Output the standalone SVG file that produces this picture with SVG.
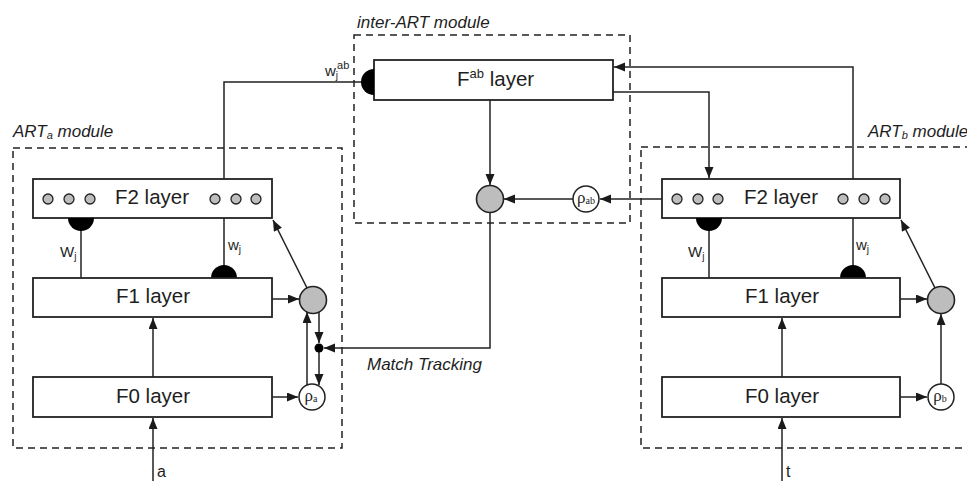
<svg xmlns="http://www.w3.org/2000/svg" width="967" height="481" viewBox="0 0 967 481">
<defs>
<marker id="arr" markerUnits="userSpaceOnUse" markerWidth="12" markerHeight="10" refX="11" refY="4.5" orient="auto">
<path d="M0,0 L11,4.5 L0,9 z" fill="#1a1a1a"/>
</marker>
<style>
.bg{fill:#ffffff}
.layer{fill:#ffffff;stroke:#222;stroke-width:1.8}
.dash{fill:none;stroke:#222;stroke-width:1.5;stroke-dasharray:7 5}
.con{fill:none;stroke:#222;stroke-width:1.5}
.arr{marker-end:url(#arr)}
.gray{fill:#bdbdbd;stroke:#222;stroke-width:1.6}
.dot{fill:#bdbdbd;stroke:#222;stroke-width:1.3}
.rho{fill:#ffffff;stroke:#222;stroke-width:1.5}
.semi{fill:#000}
.lt{font-family:"Liberation Sans",Arial,sans-serif;font-size:20.5px;fill:#1e1e1e;text-anchor:middle}
.mod{font-family:"Liberation Sans",Arial,sans-serif;font-size:17px;font-style:italic;fill:#1e1e1e}
.w{font-family:"Liberation Sans",Arial,sans-serif;font-size:15px;fill:#1e1e1e}
.rt{font-family:"Liberation Serif","Times New Roman",serif;font-size:17px;fill:#1e1e1e;text-anchor:middle}
.in{font-family:"Liberation Sans",Arial,sans-serif;font-size:16px;fill:#1e1e1e}
</style>
</defs>
<rect class="bg" x="0" y="0" width="967" height="481"/>

<g id="modules">
<rect class="dash" x="13" y="148" width="329" height="300"/>
<text class="mod" x="13" y="137">ART<tspan font-size="11" dy="2">a</tspan><tspan dy="-2"> module</tspan></text>
<rect class="dash" x="354" y="35" width="276" height="188"/>
<text class="mod" x="357" y="28">inter-ART module</text>
<rect class="dash" x="641" y="147" width="340" height="301"/>
<text class="mod" x="868" y="137">ART<tspan font-size="11" dy="2">b</tspan><tspan dy="-2"> module</tspan></text>
</g>

<g id="connectors">
<path class="con" d="M224,179 V82 H362"/>
<path class="con arr" d="M853,179 V67 H614"/>
<path class="con arr" d="M613,92 H709 V178"/>
<path class="con arr" d="M490,100 V185"/>
<path class="con arr" d="M662,199 H600"/>
<path class="con arr" d="M573,199 H504"/>
<path class="con arr" d="M490,212 V348 H324"/>
<path class="con" d="M81,230 V278"/>
<path class="con" d="M224,218 V266"/>
<path class="con arr" d="M272,299 H299"/>
<path class="con arr" d="M307,288 L273,220"/>
<path class="con arr" d="M319,312 V343"/>
<path class="con arr" d="M319,352 V385"/>
<path class="con arr" d="M307,385 V312"/>
<path class="con arr" d="M272,397 H298"/>
<path class="con arr" d="M153,377 V318"/>
<path class="con arr" d="M153,481 V418"/>
<path class="con" d="M709,230 V278"/>
<path class="con" d="M853,218 V266"/>
<path class="con arr" d="M900,299 H927"/>
<path class="con arr" d="M935,288 L901,220"/>
<path class="con arr" d="M941,384 V314"/>
<path class="con arr" d="M900,397 H927"/>
<path class="con arr" d="M782,377 V318"/>
<path class="con arr" d="M782,481 V418"/>
<text class="mod" x="367" y="370">Match Tracking</text>
<text class="in" x="157" y="477">a</text>
<text class="in" x="786" y="477">t</text>
</g>

<g id="F2a">
<rect class="layer" x="33" y="179" width="239" height="39"/>
<circle class="dot" cx="48" cy="199" r="5"/><circle class="dot" cx="69" cy="199" r="5"/><circle class="dot" cx="90" cy="199" r="5"/>
<circle class="dot" cx="215" cy="199" r="5"/><circle class="dot" cx="236" cy="199" r="5"/><circle class="dot" cx="256" cy="199" r="5"/>
<text class="lt" x="152" y="204">F2 layer</text>
<path class="semi" d="M68,218 A13,13 0 0 0 94,218 Z"/>
<text class="w" x="60" y="257">W<tspan font-size="10" dy="3">j</tspan></text>
<path class="semi" d="M211,278 A13,13 0 0 1 237,278 Z"/>
<text class="w" x="228" y="250">w<tspan font-size="10" dy="3">j</tspan></text>
</g>

<g id="F1a">
<rect class="layer" x="33" y="278" width="239" height="39"/>
<text class="lt" x="153" y="303">F1 layer</text>
</g>

<g id="F0a">
<rect class="layer" x="33" y="377" width="239" height="40"/>
<text class="lt" x="153" y="403">F0 layer</text>
</g>

<g id="gate-a">
<circle class="gray" cx="313" cy="300" r="13.5"/>
</g>

<g id="junction-a">
<circle cx="319" cy="348" r="4.5" fill="#000"/>
</g>

<g id="rho-a">
<circle class="rho" cx="312" cy="397" r="13"/>
<text class="rt" x="311" y="401">ρ<tspan font-size="10" dy="1">a</tspan></text>
</g>

<g id="Fab">
<rect class="layer" x="374" y="60" width="239" height="40"/>
<text class="lt" x="457" y="86" style="text-anchor:start">F<tspan font-size="13" dy="-8">ab</tspan><tspan dy="8"> layer</tspan></text>
<path class="semi" d="M374,69 A13,13 0 0 0 374,95 Z"/>
<text class="w" x="325" y="76">w<tspan font-size="10" dy="3">j</tspan><tspan font-size="11" dy="-10" dx="-1">ab</tspan></text>
</g>

<g id="gate-ab">
<circle class="gray" cx="490" cy="199" r="13.5"/>
</g>

<g id="rho-ab">
<circle class="rho" cx="586" cy="199" r="13"/>
<text class="rt" x="586" y="203">ρ<tspan font-size="10" dy="1">ab</tspan></text>
</g>

<g id="F2b">
<rect class="layer" x="662" y="179" width="238" height="39"/>
<circle class="dot" cx="677" cy="199" r="5"/><circle class="dot" cx="698" cy="199" r="5"/><circle class="dot" cx="718" cy="199" r="5"/>
<circle class="dot" cx="843" cy="199" r="5"/><circle class="dot" cx="864" cy="199" r="5"/><circle class="dot" cx="885" cy="199" r="5"/>
<text class="lt" x="781" y="204">F2 layer</text>
<path class="semi" d="M696,218 A13,13 0 0 0 722,218 Z"/>
<text class="w" x="688" y="257">W<tspan font-size="10" dy="3">j</tspan></text>
<path class="semi" d="M840,278 A13,13 0 0 1 866,278 Z"/>
<text class="w" x="856" y="250">w<tspan font-size="10" dy="3">j</tspan></text>
</g>

<g id="F1b">
<rect class="layer" x="662" y="278" width="238" height="39"/>
<text class="lt" x="782" y="303">F1 layer</text>
</g>

<g id="F0b">
<rect class="layer" x="662" y="377" width="238" height="40"/>
<text class="lt" x="782" y="403">F0 layer</text>
</g>

<g id="gate-b">
<circle class="gray" cx="941" cy="300" r="13.5"/>
</g>

<g id="rho-b">
<circle class="rho" cx="941" cy="397" r="13"/>
<text class="rt" x="940" y="401">ρ<tspan font-size="10" dy="1">b</tspan></text>
</g>
</svg>
